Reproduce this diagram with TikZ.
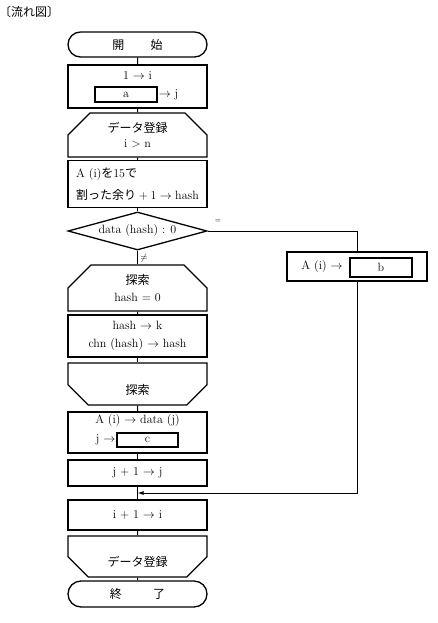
\documentclass[tikz,border=0pt]{standalone}
\usepackage{fontspec}
\newfontfamily\cjk{Noto Sans CJK JP}
\usetikzlibrary{shapes.geometric}
\usetikzlibrary{shapes.misc}
\usetikzlibrary{arrows.meta}

\begin{document}
\begin{tikzpicture}[x=1pt, y=-1pt, font=\fontsize{12}{14.5}\selectfont]
        % ================= 样式定义 =================
        \tikzset{
            % 端子:圆角
            term/.style={rounded rectangle, draw=black, line width=1.3pt, minimum width=139pt, minimum height=25pt, inner sep=0pt},
            % 处理框
            proc/.style={rectangle, draw=black, line width=1.3pt, minimum width=139pt, inner sep=0pt, align=center},
            % 循环开始 / 循环结束
            loop_top/.style={chamfered rectangle, chamfered rectangle corners={north west, north east}, chamfered rectangle xsep=15pt, chamfered rectangle ysep=9pt, draw=black, line width=1.3pt, minimum width=139pt, inner sep=0pt, align=center},
            loop_bot/.style={chamfered rectangle, chamfered rectangle corners={south west, south east}, chamfered rectangle xsep=15pt, chamfered rectangle ysep=9pt, draw=black, line width=1.3pt, minimum width=139pt, inner sep=0pt, align=center},
            % 判断
            decide/.style={diamond, draw=black, line width=1.3pt, aspect=3.6, minimum width=139pt, minimum height=38pt, inner sep=0pt},
            % 空栏
            slot/.style={rectangle, draw=black, line width=1.1pt, inner sep=0pt},
            % 流线
            flow/.style={line width=1pt}
        }
        \useasboundingbox (0,0) rectangle (438,623);

        \node (title) at (29,12) {\cjk\fontsize{12}{14}\selectfont 〔流れ図〕};

        % ================= 主流程 =================
        \node[term] (start) at (137.5,44.5) {\cjk 開\hspace{2.2em}始};

        \node[proc, minimum height=43pt] (init) at (137.5,86.5) {};
        \node (init_t) at (137.5,76) {1 $\rightarrow$ i};
        \node[slot, minimum width=62pt, minimum height=15pt] (slot_a) at (126,94.5) {a};
        \node[anchor=west, inner sep=1pt] (init_j) at (slot_a.east) {$\rightarrow$ j};

        \node[loop_top, minimum height=38pt] (reg) at (137.5,135) {{\cjk データ登録}\\[1pt] i $>$ n};

        \node[proc, minimum height=47pt, align=left] (calc) at (137.5,184) {A (i){\cjk を}15{\cjk で}\\[7pt]{\cjk 割った余り}${}+1\rightarrow{}$hash};

        \node[decide] (test) at (137.5,231) {data (hash) : 0};

        \node[loop_top, minimum height=40pt] (srch) at (137.5,288) {{\cjk 探索}\\[3pt] hash $=$ 0};

        \node[proc, minimum height=42pt] (hashbox) at (137.5,336) {hash $\rightarrow$ k\\[4pt] chn (hash) $\rightarrow$ hash};

        \node[loop_bot, minimum height=42pt] (srchend) at (137.5,384) {\mbox{}\\[7pt]{\cjk 探索}};

        \node[proc, minimum height=41pt] (store) at (137.5,432.5) {};
        \node (store_t) at (137.5,421) {A (i) $\rightarrow$ data (j)};
        \node[slot, minimum width=61pt, minimum height=14pt] (slot_c) at (147.5,440) {c};
        \node[anchor=east, inner sep=1pt] (store_j) at (slot_c.west) {j $\rightarrow$};

        \node[proc, minimum height=26pt] (incj) at (137.5,473) {j $+$ 1 $\rightarrow$ j};

        \coordinate (jn) at (137.5,493);

        \node[proc, minimum height=30pt] (inci) at (137.5,515) {i $+$ 1 $\rightarrow$ i};

        \node[loop_bot, minimum height=41pt] (regend) at (137.5,556.5) {\mbox{}\\[7pt]{\cjk データ登録}};

        \node[term, minimum height=26pt] (finish) at (137.5,594) {\cjk 終\hspace{2.6em}了};

        % ================= 右侧分支 =================
        \node[proc, minimum width=140pt, minimum height=29pt] (setb) at (357,266.5) {};
        \node (setb_t) at (322,267) {A (i) $\rightarrow$};
        \node[slot, minimum width=62pt, minimum height=19pt] (slot_b) at (381,267.5) {b};

        \node[font=\scriptsize] (eq_lbl) at (218,221) {$=$};
        \node[font=\small] (ne_lbl) at (144,258) {$\neq$};

        % ================= 流线 =================
        \draw[flow] (start) -- (init);
        \draw[flow] (init) -- (reg);
        \draw[flow] (reg) -- (calc);
        \draw[flow] (calc) -- (test);
        \draw[flow] (test) -- (srch);
        \draw[flow] (srch) -- (hashbox);
        \draw[flow] (hashbox) -- (srchend);
        \draw[flow] (srchend) -- (store);
        \draw[flow] (store) -- (incj);
        \draw[flow] (incj) -- (inci);
        \draw[flow] (inci) -- (regend);
        \draw[flow] (regend) -- (finish);

        \draw[flow] (test.east) -| (setb.north);
        \draw[flow, -{Latex[length=6pt, width=4pt]}] (setb.south) |- (jn);

\end{tikzpicture}
\end{document}
